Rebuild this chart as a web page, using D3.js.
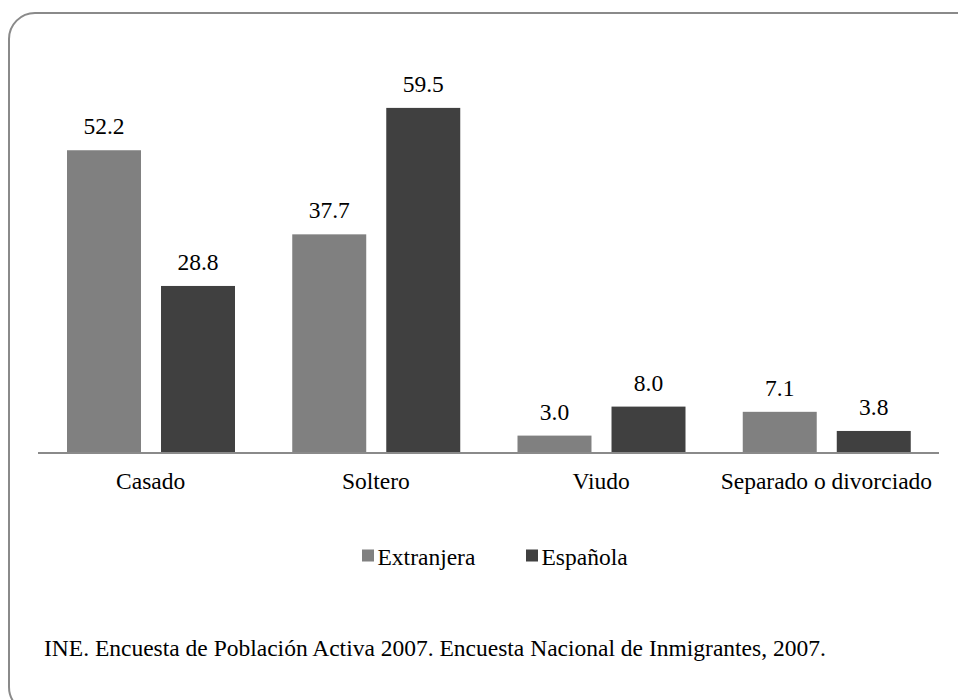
<!DOCTYPE html>
<html><head><meta charset="utf-8">
<script src="https://cdn.jsdelivr.net/npm/d3@7"></script>
<style>body{margin:0;background:#fff}svg{display:block}
svg text{font-family:"Liberation Serif","DejaVu Serif",serif !important;}</style>
</head><body>
<svg id="c" width="958" height="700"></svg>
<script>
const categories = ["Casado", "Soltero", "Viudo", "Separado o divorciado"];
const seriesNames = ["Extranjera", "Española"];
const extranjera = [52.2, 37.7, 3.0, 7.1];
const espanola = [28.8, 59.5, 8.0, 3.8];
const colors = ["#808080", "#404040"];
const source = "INE. Encuesta de Población Activa 2007. Encuesta Nacional de Inmigrantes, 2007.";

const svg = d3.select("#c");
const fs = 23.5;

svg.append("rect").attr("x", 9).attr("y", 13).attr("width", 975).attr("height", 700)
  .attr("rx", 26).attr("ry", 26).attr("fill", "none").attr("stroke", "#8a8a8a").attr("stroke-width", 2);

const x0 = d3.scaleBand().domain(categories).range([38, 939]).paddingInner(0).paddingOuter(0);
const x1 = d3.scaleBand().domain(seriesNames).range([29, 197]).paddingInner(0.213);
const y = d3.scaleLinear().domain([0, 70]).range([453, 47]);

const data = categories.map((c, i) => ({cat: c, vals: [extranjera[i], espanola[i]]}));

const g = svg.append("g");
const groups = g.selectAll("g.cat").data(data).join("g")
  .attr("transform", d => `translate(${x0(d.cat)},0)`);
groups.selectAll("rect").data(d => d.vals.map((v, j) => ({v, s: seriesNames[j], j})))
  .join("rect")
  .attr("x", d => x1(d.s)).attr("width", x1.bandwidth())
  .attr("y", d => y(d.v)).attr("height", d => y(0) - y(d.v))
  .attr("fill", d => colors[d.j]);
groups.selectAll("text").data(d => d.vals.map((v, j) => ({v, s: seriesNames[j], j})))
  .join("text")
  .attr("x", d => x1(d.s) + x1.bandwidth() / 2).attr("y", d => y(d.v) - 16)
  .attr("text-anchor", "middle").attr("font-size", fs)
  .attr("fill", "#000").text(d => d3.format(".1f")(d.v));

const axis = d3.axisBottom(x0).tickSize(0).tickPadding(18);
const ax = svg.append("g").attr("transform", `translate(0,${y(0)})`).call(axis);
ax.select(".domain").attr("stroke", "#8a8a8a").attr("stroke-width", 2).attr("d", `M38,0H939`);
ax.selectAll(".tick text").attr("font-size", fs).attr("fill", "#000")
  .attr("dy", null).attr("y", 36);

const legend = svg.append("g");
const legX = [362, 526];
seriesNames.forEach((s, i) => {
  legend.append("rect").attr("x", legX[i]).attr("y", 549.5).attr("width", 12).attr("height", 12).attr("fill", colors[i]);
  legend.append("text").attr("x", legX[i] + 15.5).attr("y", 565).attr("font-size", fs)
    .attr("fill", "#000").text(s);
});

svg.append("text").attr("x", 44).attr("y", 656).attr("font-size", fs)
  .attr("fill", "#000").text(source);
</script>
</body></html>
